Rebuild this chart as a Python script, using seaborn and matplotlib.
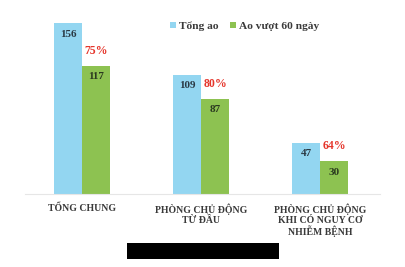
import matplotlib
matplotlib.use("Agg")
import matplotlib.pyplot as plt
import seaborn as sns
import pandas as pd
from matplotlib.patches import Rectangle

categories = ["TỔNG CHUNG", "PHÒNG CHỦ ĐỘNG\nTỪ ĐẦU", "PHÒNG CHỦ ĐỘNG\nKHI CÓ NGUY CƠ\nNHIỄM BỆNH"]
tong_ao = [156, 109, 47]
ao_vuot = [117, 87, 30]
percents = ["75%", "80%", "64%"]
series = ["Tổng ao", "Ao vượt 60 ngày"]

sns.set_theme(style="white")
plt.rcParams["font.family"] = ["Liberation Serif", "DejaVu Serif"]

df = pd.DataFrame({
    "cat": categories * 2,
    "val": tong_ao + ao_vuot,
    "series": [series[0]] * 3 + [series[1]] * 3,
})

fig = plt.figure(figsize=(4.05, 2.67), dpi=100)
ax = fig.add_axes([0.062, 0.273, 0.876, 0.697])
blue = "#93D6F1"
green = "#8DC251"
sns.barplot(data=df, x="cat", y="val", hue="series", palette=[blue, green],
            width=0.47, saturation=1, linewidth=0, ax=ax, legend=True)
ax.set_xlim(-0.48, 2.5)
ax.set_ylim(0, 170)
ax.set_xlabel("")
ax.set_ylabel("")
ax.set_yticks([])
for s in ["top", "right", "left"]:
    ax.spines[s].set_visible(False)
ax.spines["bottom"].set_color("#E6E6E6")
ax.spines["bottom"].set_linewidth(0.8)
ax.tick_params(axis="x", length=0, pad=7)
for lbl in ax.get_xticklabels():
    lbl.set_fontsize(7)
    lbl.set_fontweight("bold")
    lbl.set_color("#3a3a3a")
    lbl.set_linespacing(1.05)
    lbl.set_verticalalignment("top")

cont_blue, cont_green = ax.containers[0], ax.containers[1]
for bar, v in zip(cont_blue, tong_ao):
    ax.annotate(str(v), (bar.get_x() + bar.get_width() / 2, bar.get_height()),
                xytext=(0, -4.5), textcoords="offset points", ha="center", va="top",
                fontsize=8, fontweight="bold", color="#2b3a45")
for bar, v, p in zip(cont_green, ao_vuot, percents):
    ax.annotate(str(v), (bar.get_x() + bar.get_width() / 2, bar.get_height()),
                xytext=(0, -4.5), textcoords="offset points", ha="center", va="top",
                fontsize=8, fontweight="bold", color="#2b3a20")
    ax.annotate(p, (bar.get_x() + bar.get_width() / 2, bar.get_height()),
                xytext=(0, 6.5), textcoords="offset points", ha="center", va="bottom",
                fontsize=8.5, fontweight="bold", color="#E5352B")

leg = ax.legend(loc="center", bbox_to_anchor=(0.605, 0.902), bbox_transform=fig.transFigure,
                ncol=2, frameon=False, fontsize=8.2, handlelength=0.5, handleheight=0.5,
                handletextpad=0.3, columnspacing=1.0)
for t in leg.get_texts():
    t.set_fontweight("bold")
    t.set_color("#3a3a3a")

fig.patches.append(Rectangle((127 / 405, 8 / 267), 152 / 405, 16 / 267,
                             transform=fig.transFigure, facecolor="black", edgecolor="none"))

fig.savefig("out.png", dpi=100)
